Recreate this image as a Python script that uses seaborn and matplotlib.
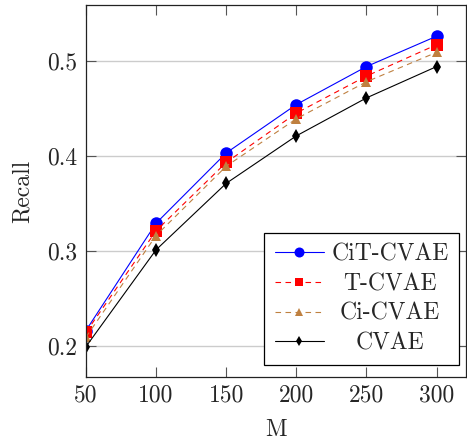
import numpy as np
import pandas as pd
import matplotlib
matplotlib.use("Agg")
import matplotlib.pyplot as plt
import seaborn as sns

# data
m_values = [50, 100, 150, 200, 250, 300]
cit_cvae = [0.216, 0.329, 0.403, 0.454, 0.494, 0.526]
t_cvae = [0.214, 0.321, 0.393, 0.445, 0.484, 0.517]
ci_cvae = [0.209, 0.316, 0.389, 0.439, 0.478, 0.509]
cvae = [0.199, 0.301, 0.371, 0.421, 0.461, 0.494]
models = ["CiT-CVAE", "T-CVAE", "Ci-CVAE", "CVAE"]
y_ticks = [0.2, 0.3, 0.4, 0.5]

sns.set_style("ticks")
plt.rcParams["font.family"] = ["cmr10"]
plt.rcParams["mathtext.fontset"] = "cm"
plt.rcParams["axes.formatter.use_mathtext"] = True

df = pd.DataFrame({
    "M": m_values * 4,
    "Recall": cit_cvae + t_cvae + ci_cvae + cvae,
    "Model": np.repeat(models, len(m_values)),
})

styles = {
    "CiT-CVAE": dict(color="#0000ff", marker="o", markersize=9, linestyle="-"),
    "T-CVAE": dict(color="#ff0000", marker="s", markersize=8, linestyle=(0, (5, 4))),
    "Ci-CVAE": dict(color="#bf8040", marker="^", markersize=7, linestyle=(0, (5, 4))),
    "CVAE": dict(color="black", marker="d", markersize=7, linestyle="-"),
}

fig = plt.figure(figsize=(4.67, 4.41), dpi=100)
ax = fig.add_axes([0.184, 0.145, 0.814, 0.844])

for name in models:
    st = styles[name]
    sns.lineplot(data=df[df["Model"] == name], x="M", y="Recall", ax=ax,
                 label=name, color=st["color"], marker=st["marker"],
                 markersize=st["markersize"], linestyle=st["linestyle"],
                 linewidth=0.8, markeredgewidth=0, markeredgecolor=st["color"])

ax.set_xlim(50, 321)
ax.set_ylim(0.167, 0.559)
ax.set_xticks(m_values)
ax.set_yticks(y_ticks)
ax.set_xticklabels([str(v) for v in m_values])
ax.set_yticklabels([str(v) for v in y_ticks])
ax.yaxis.grid(True, color="#cccccc", linewidth=1)
ax.set_axisbelow(True)
ax.tick_params(direction="in", length=7, width=0.8, color="#555555",
               top=True, right=True, labelsize=17)
ax.tick_params(axis="x", pad=5)
ax.tick_params(axis="y", pad=6)
for sp in ax.spines.values():
    sp.set_color("#222222")
    sp.set_linewidth(0.9)
ax.set_xlabel("M", fontsize=17, labelpad=9)
ax.set_ylabel("Recall", fontsize=17, labelpad=10)

leg = ax.legend(loc="lower right", bbox_to_anchor=(0.982, 0.032), borderaxespad=0,
                fontsize=17, frameon=True, fancybox=False, framealpha=1,
                edgecolor="black", handlelength=2.1, labelspacing=0.32,
                borderpad=0.45, handletextpad=0.3, markerscale=0.8)
leg.get_frame().set_linewidth(0.9)

# center legend labels like pgfplots
fig.canvas.draw()
widths = [t.get_window_extent().width for t in leg.get_texts()]
for t, w in zip(leg.get_texts(), widths):
    t.set_x((max(widths) - w) / 2)

fig.savefig("out.png", dpi=100)
